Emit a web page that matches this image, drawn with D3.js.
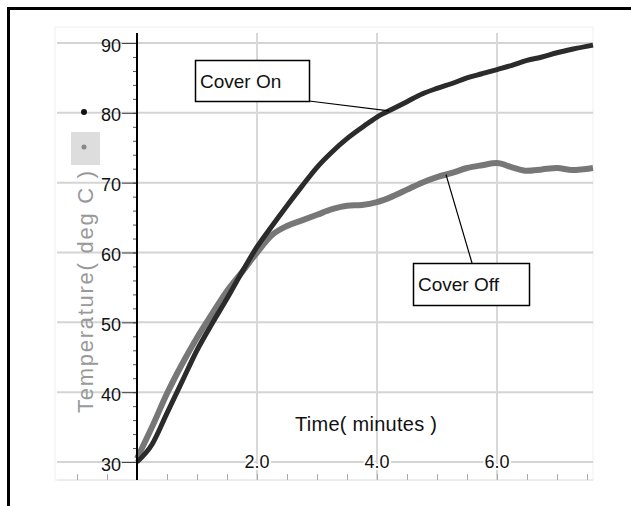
<!DOCTYPE html>
<html>
<head>
<meta charset="utf-8">
<script src="https://cdn.jsdelivr.net/npm/d3@7"></script>
<style>
  html, body { margin: 0; padding: 0; background: #fff; }
  text { font-family: 'Liberation Sans', Arial, sans-serif; }
</style>
</head>
<body>
<div id="chart"></div>
<script>
(function() {
  'use strict';

  // time in minutes, temperature in deg C
  var times = [0, 0.25, 0.5, 0.75, 1.0, 1.25, 1.5, 1.75, 2.0, 2.25, 2.5, 2.75, 3.0, 3.25, 3.5,
    3.75, 4.0, 4.25, 4.5, 4.75, 5.0, 5.25, 5.5, 5.75, 6.0, 6.25, 6.5, 6.75, 7.0, 7.25, 7.6];
  var coverOn = [30, 32.5, 37, 41.5, 46, 49.8, 53.4, 57.2, 60.8, 63.8, 66.7, 69.5, 72.2, 74.4, 76.3,
    77.9, 79.4, 80.5, 81.6, 82.7, 83.5, 84.2, 85, 85.6, 86.2, 86.8, 87.5, 88, 88.6, 89.1, 89.7];
  var coverOff = [30.5, 35, 39.8, 44, 47.8, 51.2, 54.5, 57.2, 60, 62.5, 63.8, 64.6, 65.4, 66.2, 66.7,
    66.8, 67.2, 68, 69, 70, 70.8, 71.4, 72.1, 72.5, 72.8, 72.2, 71.7, 71.9, 72.1, 71.8, 72.1];

  var yTicks = [30, 40, 50, 60, 70, 80, 90];
  var yMinorTicks = d3.range(30, 91, 2);
  var xTicks = [2, 4, 6];
  var xMinorTicks = d3.range(-1, 7.6, 0.5);

  var svgW = 631,
    svgH = 506;

  var svg = d3.select('#chart')
    .append('svg')
    .attr('width', svgW)
    .attr('height', svgH);

  var x = d3.scaleLinear().domain([0, 7.6]).range([137, 593]);
  var y = d3.scaleLinear().domain([30, 90]).range([462, 43]);

  var gridLeft = 57,
    gridRight = 593,
    plotTop = 27,
    plotBottom = 480;

  // outer frame (top and left edge only)
  svg.append('path')
    .attr('d', 'M8.5,506V8.5H631')
    .attr('fill', 'none')
    .attr('stroke', '#000')
    .attr('stroke-width', 3);

  // faint plot border
  svg.append('rect')
    .attr('x', gridLeft - 2)
    .attr('y', plotTop)
    .attr('width', gridRight - gridLeft + 2)
    .attr('height', plotBottom - plotTop)
    .attr('fill', 'none')
    .attr('stroke', '#f0f0f0');

  // gridlines
  svg.selectAll('.hgrid')
    .data(yTicks)
    .enter()
    .append('line')
    .attr('class', 'hgrid')
    .attr('x1', gridLeft)
    .attr('x2', gridRight)
    .attr('y1', function(d) { return y(d); })
    .attr('y2', function(d) { return y(d); })
    .attr('stroke', '#d4d4d4')
    .attr('stroke-width', 2);

  svg.selectAll('.vgrid')
    .data(xTicks)
    .enter()
    .append('line')
    .attr('class', 'vgrid')
    .attr('x1', function(d) { return x(d); })
    .attr('x2', function(d) { return x(d); })
    .attr('y1', plotTop + 6)
    .attr('y2', plotBottom)
    .attr('stroke', '#d8d8d8')
    .attr('stroke-width', 2);

  // bottom rule with minor ticks
  svg.append('line')
    .attr('x1', gridLeft)
    .attr('x2', gridRight)
    .attr('y1', plotBottom)
    .attr('y2', plotBottom)
    .attr('stroke', '#e2e2e2');

  svg.append('g')
    .attr('transform', 'translate(0,' + plotBottom + ')')
    .call(d3.axisTop(x).tickValues(xMinorTicks).tickSize(6).tickFormat(''))
    .call(function(g) {
      g.select('.domain').remove();
      g.selectAll('line').attr('stroke', '#aaa');
    });

  // series
  var line = d3.line()
    .x(function(d) { return x(d[0]); })
    .y(function(d) { return y(d[1]); })
    .curve(d3.curveMonotoneX);

  svg.append('path')
    .datum(d3.zip(times, coverOff))
    .attr('d', line)
    .attr('fill', 'none')
    .attr('stroke', '#777')
    .attr('stroke-width', 6);

  svg.append('path')
    .datum(d3.zip(times, coverOn))
    .attr('d', line)
    .attr('fill', 'none')
    .attr('stroke', '#2b2b2b')
    .attr('stroke-width', 5);

  // y axis
  svg.append('g')
    .attr('transform', 'translate(137,0)')
    .call(d3.axisLeft(y).tickValues(yMinorTicks).tickSize(4).tickFormat(''))
    .call(function(g) {
      g.select('.domain').remove();
      g.selectAll('line').attr('stroke', '#555');
    });

  svg.append('g')
    .attr('transform', 'translate(137,0)')
    .call(d3.axisLeft(y).tickValues(yTicks).tickSize(15).tickPadding(1))
    .call(function(g) {
      g.select('.domain').remove();
      g.selectAll('line').attr('stroke', '#444');
      g.selectAll('text')
        .attr('font-size', 18)
        .attr('fill', '#111')
        .attr('dy', '0.45em')
        .style('font-family', "'Liberation Sans', Arial, sans-serif");
    });

  svg.append('line')
    .attr('x1', 137)
    .attr('x2', 137)
    .attr('y1', 33)
    .attr('y2', plotBottom)
    .attr('stroke', '#000')
    .attr('stroke-width', 2);

  // x tick labels sit on the 30 gridline
  svg.selectAll('.xlabel')
    .data(xTicks)
    .enter()
    .append('text')
    .attr('class', 'xlabel')
    .attr('x', function(d) { return x(d); })
    .attr('y', y(30) + 6)
    .attr('text-anchor', 'middle')
    .attr('font-size', 18)
    .attr('fill', '#111')
    .attr('stroke', '#fff')
    .attr('stroke-width', 4)
    .attr('paint-order', 'stroke')
    .text(function(d) { return d.toFixed(1); });

  // axis titles
  svg.append('text')
    .attr('x', 366)
    .attr('y', 431)
    .attr('text-anchor', 'middle')
    .attr('font-size', 20)
    .attr('fill', '#111')
    .attr('textLength', 142)
    .text('Time( minutes )');

  svg.append('text')
    .attr('transform', 'translate(93,292) rotate(-90)')
    .attr('text-anchor', 'middle')
    .attr('font-size', 22)
    .attr('fill', '#999')
    .attr('textLength', 242)
    .text('Temperature( deg C )');

  // legend markers
  svg.append('rect')
    .attr('x', 71)
    .attr('y', 132)
    .attr('width', 29)
    .attr('height', 33)
    .attr('fill', '#ddd');

  svg.append('circle')
    .attr('cx', 84)
    .attr('cy', 112)
    .attr('r', 3)
    .attr('fill', '#111');

  svg.append('circle')
    .attr('cx', 84)
    .attr('cy', 147)
    .attr('r', 2.5)
    .attr('fill', '#888');

  // annotation boxes with leader lines
  var notes = [
    { label: 'Cover On', box: [195, 60, 114, 41], from: [309, 101], t: 4.2, series: coverOn },
    { label: 'Cover Off', box: [413, 263, 116, 42], from: [472, 263], t: 5.15, series: coverOff }
  ];

  notes.forEach(function(n) {
    var v = d3.scaleLinear().domain(times).range(n.series)(n.t);
    svg.append('line')
      .attr('x1', n.from[0])
      .attr('y1', n.from[1])
      .attr('x2', x(n.t))
      .attr('y2', y(v))
      .attr('stroke', '#000')
      .attr('stroke-width', 1.2);

    svg.append('rect')
      .attr('x', n.box[0] + 0.5)
      .attr('y', n.box[1] + 0.5)
      .attr('width', n.box[2])
      .attr('height', n.box[3])
      .attr('fill', '#fff')
      .attr('stroke', '#000')
      .attr('stroke-width', 1.5);

    svg.append('text')
      .attr('x', n.box[0] + 5)
      .attr('y', n.box[1] + 28)
      .attr('font-size', 19)
      .attr('fill', '#111')
      .text(n.label);
  });

}());
</script>
</body>
</html>
